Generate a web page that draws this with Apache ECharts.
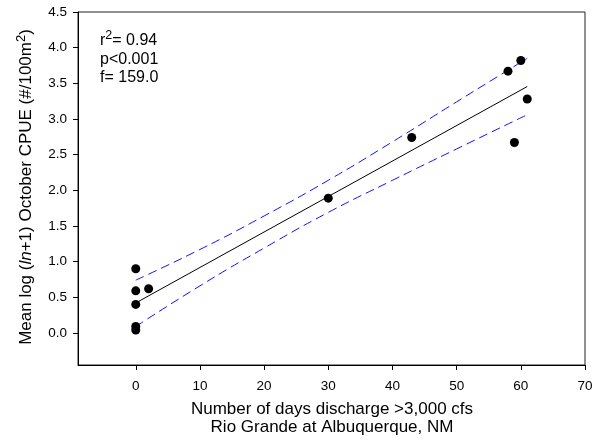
<!DOCTYPE html>
<html><head><meta charset="utf-8">
<script src="https://cdn.jsdelivr.net/npm/echarts@6/dist/echarts.min.js"></script>
<style>html,body{margin:0;padding:0;background:#fff}#c{width:597px;height:440px}</style>
</head><body><div id="c"></div>
<script>
// Observed points
const daysX = [0, 0, 0, 0, 0, 2, 30, 43, 58, 59, 60, 61];
const cpueY = [0.90, 0.59, 0.40, 0.09, 0.04, 0.62, 1.89, 2.74, 3.67, 2.67, 3.82, 3.28];
// Regression line and 95% confidence band
const fitX = [0, 10, 20, 30, 40, 50, 61];
const fitY = [0.42, 0.92, 1.415, 1.91, 2.41, 2.91, 3.455];
const upperY = [0.74, 1.17, 1.64, 2.14, 2.68, 3.24, 3.85];
const lowerY = [0.09, 0.66, 1.19, 1.69, 2.14, 2.58, 3.06];
const xTicks = [0, 10, 20, 30, 40, 50, 60, 70];
const yTicks = [0, 0.5, 1, 1.5, 2, 2.5, 3, 3.5, 4, 4.5];

const FONT = 'Liberation Sans, Arial, sans-serif';
const pts = daysX.map((x, i) => [x, cpueY[i]]);
const zip = (xs, ys) => xs.map((x, i) => [x, ys[i]]);

const chart = echarts.init(document.getElementById('c'), null, {renderer: 'canvas'});
chart.setOption({
  animation: false,
  backgroundColor: '#fff',
  grid: {left: 78, right: 12, top: 12, bottom: 75, show: true, borderColor: '#222', borderWidth: 1, backgroundColor: 'transparent'},
  xAxis: {
    type: 'value', min: -9, max: 70,
    axisLine: {show: true, onZero: false, lineStyle: {color: '#000', width: 1}},
    axisTick: {show: true, inside: false, length: 5, customValues: xTicks, lineStyle: {color: '#000'}},
    axisLabel: {customValues: xTicks, color: '#000', fontFamily: FONT, fontSize: 13.5, margin: 14},
    splitLine: {show: false}
  },
  yAxis: {
    type: 'value', min: -0.45, max: 4.5,
    axisLine: {show: true, onZero: false, lineStyle: {color: '#000', width: 1}},
    axisTick: {show: true, inside: false, length: 5, customValues: yTicks, lineStyle: {color: '#000'}},
    axisLabel: {customValues: yTicks, color: '#000', fontFamily: FONT, fontSize: 13.5, margin: 11,
      formatter: v => v.toFixed(1)},
    splitLine: {show: false}
  },
  graphic: [
    {type: 'text', x: 332, y: 409, style: {text: 'Number of days discharge >3,000 cfs', font: '17px ' + FONT, fill: '#000', align: 'center', verticalAlign: 'middle'}},
    {type: 'text', x: 332, y: 427, style: {text: 'Rio Grande at Albuquerque, NM', font: '17px ' + FONT, fill: '#000', align: 'center', verticalAlign: 'middle'}},
    {type: 'text', x: 25, y: 187, rotation: Math.PI / 2,
      style: {
        text: '{n|Mean log (}{i|ln}{n|+1) October CPUE (#/100m}{s|2}{n|)}',
        fill: '#000', align: 'center', verticalAlign: 'middle',
        rich: {
          n: {fontFamily: FONT, fontSize: 17, fill: '#000', verticalAlign: 'bottom', lineHeight: 20},
          i: {fontFamily: FONT, fontSize: 17, fontStyle: 'italic', fill: '#000', verticalAlign: 'bottom', lineHeight: 20},
          s: {fontFamily: FONT, fontSize: 13, fill: '#000', verticalAlign: 'top', lineHeight: 20}
        }
      }},
    {type: 'text', x: 100, y: 39, style: {
      text: '{n|r}{s|2}{n|= 0.94}', verticalAlign: 'middle', rich: {
        n: {fontFamily: FONT, fontSize: 16, fill: '#000', verticalAlign: 'bottom', lineHeight: 20},
        s: {fontFamily: FONT, fontSize: 12.5, fill: '#000', verticalAlign: 'top', lineHeight: 20}
      }}},
    {type: 'text', x: 100, y: 59.5, style: {text: 'p<0.001', font: '16px ' + FONT, fill: '#000', verticalAlign: 'middle'}},
    {type: 'text', x: 100, y: 77.5, style: {text: 'f= 159.0', font: '16px ' + FONT, fill: '#000', verticalAlign: 'middle'}}
  ],
  series: [
    {type: 'line', data: zip(fitX, upperY), smooth: true, showSymbol: false, symbol: 'none',
      lineStyle: {color: '#1010ff', width: 1, type: [9, 5]}, z: 2},
    {type: 'line', data: zip(fitX, lowerY), smooth: true, showSymbol: false, symbol: 'none',
      lineStyle: {color: '#1010ff', width: 1, type: [9, 5]}, z: 2},
    {type: 'line', data: [[fitX[0], fitY[0]], [fitX[fitX.length - 1], fitY[fitY.length - 1]]], showSymbol: false, symbol: 'none',
      lineStyle: {color: '#000', width: 1}, z: 3},
    {type: 'scatter', data: pts, symbol: 'circle', symbolSize: 9, itemStyle: {color: '#000', opacity: 1}, z: 4}
  ]
});
</script></body></html>
